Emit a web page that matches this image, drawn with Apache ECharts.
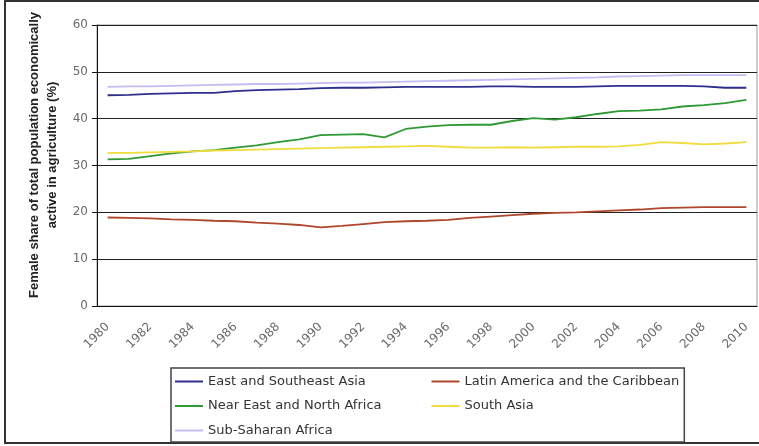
<!DOCTYPE html>
<html>
<head>
<meta charset="utf-8">
<script src="https://cdn.jsdelivr.net/npm/echarts@6/dist/echarts.min.js"></script>
<style>
  html, body { margin: 0; padding: 0; background: #fff; }
  #chart { width: 759px; height: 446px; }
</style>
</head>
<body>
<div id="chart"></div>
<script>
// Years on the horizontal axis
const years = [];
for (let y = 1980; y <= 2010; y++) years.push(String(y));

// Female share of total population economically active in agriculture (%)
const eastSoutheastAsia = [45.0,45.1,45.3,45.4,45.5,45.5,45.9,46.1,46.2,46.3,46.5,46.6,46.6,46.7,46.8,46.8,46.8,46.8,46.9,46.9,46.8,46.8,46.8,46.9,47.0,47.0,47.0,47.0,46.9,46.6,46.6];
const latinAmerica      = [18.9,18.8,18.7,18.5,18.4,18.2,18.1,17.8,17.6,17.3,16.8,17.1,17.5,17.9,18.1,18.2,18.4,18.8,19.1,19.4,19.7,19.9,20.0,20.2,20.4,20.6,20.9,21.0,21.1,21.1,21.1];
const nearEastNAfrica   = [31.3,31.4,32.0,32.6,33.0,33.3,33.8,34.3,35.0,35.6,36.5,36.6,36.7,36.0,37.8,38.3,38.6,38.7,38.7,39.5,40.1,39.8,40.3,41.0,41.6,41.7,42.0,42.6,42.9,43.3,44.0];
const southAsia         = [32.7,32.7,32.8,32.9,33.0,33.2,33.3,33.4,33.5,33.6,33.7,33.8,33.9,34.0,34.1,34.2,34.0,33.8,33.8,33.9,33.8,33.9,34.0,34.0,34.1,34.4,35.0,34.8,34.5,34.7,35.0];
const subSaharanAfrica  = [46.8,46.9,46.9,47.0,47.1,47.2,47.3,47.4,47.4,47.5,47.6,47.7,47.7,47.8,47.9,48.0,48.1,48.2,48.3,48.4,48.5,48.6,48.7,48.8,49.0,49.1,49.2,49.3,49.3,49.3,49.3];

const seriesNames = [
  'East and Southeast Asia',
  'Latin America and the Caribbean',
  'Near East and North Africa',
  'South Asia',
  'Sub-Saharan Africa'
];
const seriesData = [eastSoutheastAsia, latinAmerica, nearEastNAfrica, southAsia, subSaharanAfrica];
const seriesColors = ['#2e2e8c', '#b0462c', '#2f9a35', '#f0dc3c', '#c4bcf2'];

const chart = echarts.init(document.getElementById('chart'));

chart.setOption({
  animation: false,
  backgroundColor: '#fff',
  grid: {
    left: 97, right: 2, top: 25, bottom: 140,
    show: true, borderColor: '#9a9a9a', borderWidth: 1
  },
  xAxis: {
    type: 'category',
    data: years,
    boundaryGap: true,
    axisLine: { lineStyle: { color: '#111', width: 1 } },
    axisTick: { interval: 0, length: 4, lineStyle: { color: '#111' } },
    axisLabel: {
      interval: 1,
      rotate: 45,
      margin: 19,
      color: '#6a6a6a',
      fontFamily: 'DejaVu Sans',
      fontSize: 12
    },
    splitLine: { show: false }
  },
  yAxis: {
    type: 'value',
    min: 0, max: 60, interval: 10,
    axisLine: { show: true, lineStyle: { color: '#111', width: 1 } },
    axisTick: { show: true, length: 5, lineStyle: { color: '#111' } },
    axisLabel: {
      margin: 9,
      color: '#6a6a6a',
      fontFamily: 'DejaVu Sans',
      fontSize: 12
    },
    splitLine: { lineStyle: { color: '#222', width: 1 } }
  },
  legend: {
    data: seriesNames.map((name, i) => ({ name: name, icon: 'rect', itemStyle: { color: seriesColors[i] } })),
    left: 171, top: 368,
    width: 530,
    orient: 'horizontal',
    padding: [7, 5, 5, 4],
    itemWidth: 28, itemHeight: 2, itemGap: 11.5,
    borderColor: '#444', borderWidth: 1.5,
    backgroundColor: '#fff',
    textStyle: {
      fontFamily: 'DejaVu Sans',
      fontSize: 13,
      color: '#333',
      width: 212,
      lineHeight: 12
    }
  },
  graphic: [
    {
      // outer frame of the figure
      type: 'rect', silent: true, z: -10,
      shape: { x: 5, y: 1, width: 760, height: 442 },
      style: { fill: 'none', stroke: '#333', lineWidth: 2 }
    },
    {
      // y-axis title, two lines, reading bottom to top
      type: 'text', silent: true,
      x: 43, y: 155, rotation: Math.PI / 2,
      style: {
        text: 'Female share of total population economically\nactive in agriculture (%)',
        fontFamily: 'Liberation Sans',
        fontWeight: 'bold',
        fontSize: 13,
        lineHeight: 18,
        fill: '#222',
        align: 'center',
        verticalAlign: 'middle'
      }
    }
  ],
  series: seriesNames.map((name, i) => ({
    name: name,
    type: 'line',
    data: seriesData[i],
    symbol: 'none',
    smooth: false,
    color: seriesColors[i],
    lineStyle: { width: 1.8, color: seriesColors[i] }
  }))
});
</script>
</body>
</html>
